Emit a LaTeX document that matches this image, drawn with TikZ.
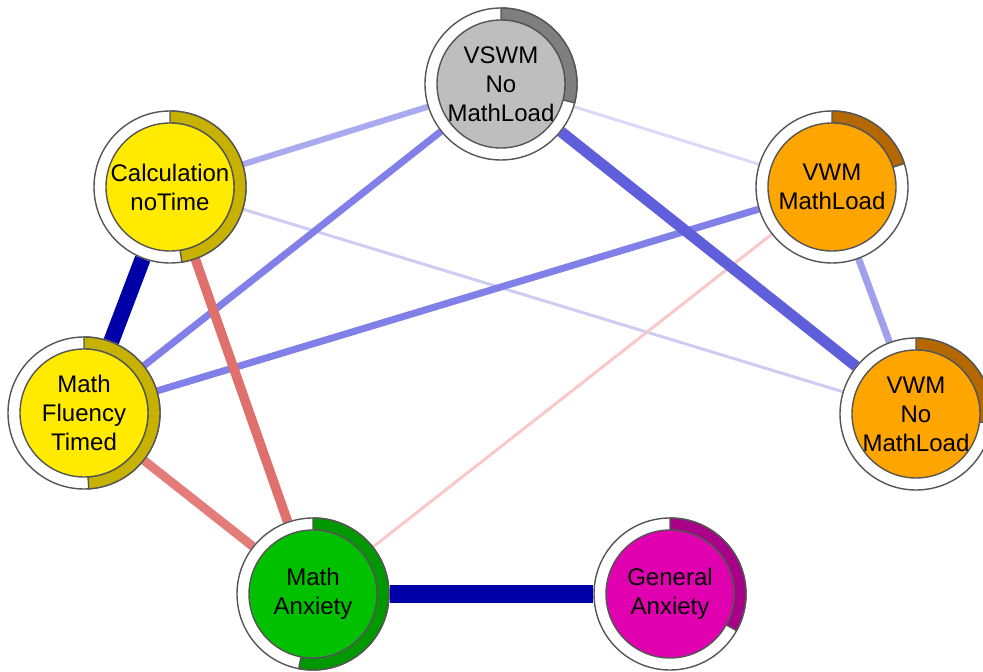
\documentclass[tikz,border=0pt]{standalone}
\usepackage{fontspec}
\setmainfont{Liberation Sans}
\usetikzlibrary{backgrounds}
\definecolor{ringgray}{RGB}{85,85,85}
\definecolor{navy}{RGB}{0,0,168}
\definecolor{blueA}{RGB}{95,95,220}
\definecolor{blueB}{RGB}{128,128,232}
\definecolor{blueC}{RGB}{170,170,240}
\definecolor{blueD}{RGB}{160,160,236}
\definecolor{blueE}{RGB}{218,218,248}
\definecolor{blueF}{RGB}{205,205,244}
\definecolor{salmonA}{RGB}{224,112,108}
\definecolor{salmonB}{RGB}{228,125,122}
\definecolor{pinkC}{RGB}{250,200,200}
\definecolor{grayfill}{RGB}{190,190,190}
\definecolor{graydark}{RGB}{127,127,127}
\definecolor{yelfill}{RGB}{255,234,0}
\definecolor{yeldark}{RGB}{200,178,0}
\definecolor{orfill}{RGB}{255,165,0}
\definecolor{ordark}{RGB}{182,104,0}
\definecolor{grfill}{RGB}{0,192,0}
\definecolor{grdark}{RGB}{0,152,0}
\definecolor{mgfill}{RGB}{224,0,176}
\definecolor{mgdark}{RGB}{168,0,136}
\newcommand{\pienode}[7]{%
  \node[ring] (#1) at (#2,#3) {};
  \fill[#5, draw=ringgray, line width=1.4pt] (#2,#3) ++(90:76)
    arc[start angle=90, delta angle={-#6*360}, radius=76]
    -- ++({270-#6*360}:12)
    arc[start angle={90-#6*360}, delta angle={#6*360}, radius=64] -- cycle;
  \node[core, fill=#4] (#1-c) at (#2,#3) {};
  \node[lbl] (#1-t) at (#2,#3) {#7};
}
\begin{document}
\begin{tikzpicture}[x=1pt,y=1pt,
  ring/.style={circle, draw=ringgray, line width=1.4pt, fill=white, minimum size=152pt, inner sep=0pt},
  core/.style={circle, draw=ringgray, line width=1.4pt, minimum size=128pt, inner sep=0pt},
  lbl/.style={inner sep=0pt, align=center, font=\fontsize{24}{29}\selectfont, text=black},
  edge/.style={line cap=butt}]
\useasboundingbox (0,0) rectangle (983,672);
\pienode{vswm}{501}{588}{grayfill}{graydark}{0.29}{VSWM\\No\\MathLoad}
\pienode{calc}{170}{485}{yelfill}{yeldark}{0.475}{Calculation\\noTime}
\pienode{vwmml}{832}{485}{orfill}{ordark}{0.20}{VWM\\MathLoad}
\pienode{mf}{84}{259}{yelfill}{yeldark}{0.49}{Math\\Fluency\\Timed}
\pienode{vwmnml}{916}{258}{orfill}{ordark}{0.27}{VWM\\No\\MathLoad}
\pienode{ma}{313}{78}{grfill}{grdark}{0.53}{Math\\Anxiety}
\pienode{ga}{670}{78}{mgfill}{mgdark}{0.33}{General\\Anxiety}
\begin{scope}[on background layer]
\draw[edge, line width=3pt, blueE] (vswm) -- (vwmml);
\draw[edge, line width=3pt, blueF] (calc) -- (vwmnml);
\draw[edge, line width=3pt, pinkC] (vwmml) -- (ma);
\draw[edge, line width=6pt, blueC] (calc) -- (vswm);
\draw[edge, line width=7pt, blueD] (vwmml) -- (vwmnml);
\draw[edge, line width=7pt, blueB] (vswm) -- (mf);
\draw[edge, line width=7pt, blueB] (vwmml) -- (mf);
\draw[edge, line width=9pt, salmonB] (mf) -- (ma);
\draw[edge, line width=9.5pt, salmonA] (calc) -- (ma);
\draw[edge, line width=11pt, blueA] (vswm) -- (vwmnml);
\draw[edge, line width=16pt, navy] (calc) -- (mf);
\draw[edge, line width=18pt, navy] (ma) -- (ga);
\end{scope}
\end{tikzpicture}
\end{document}
